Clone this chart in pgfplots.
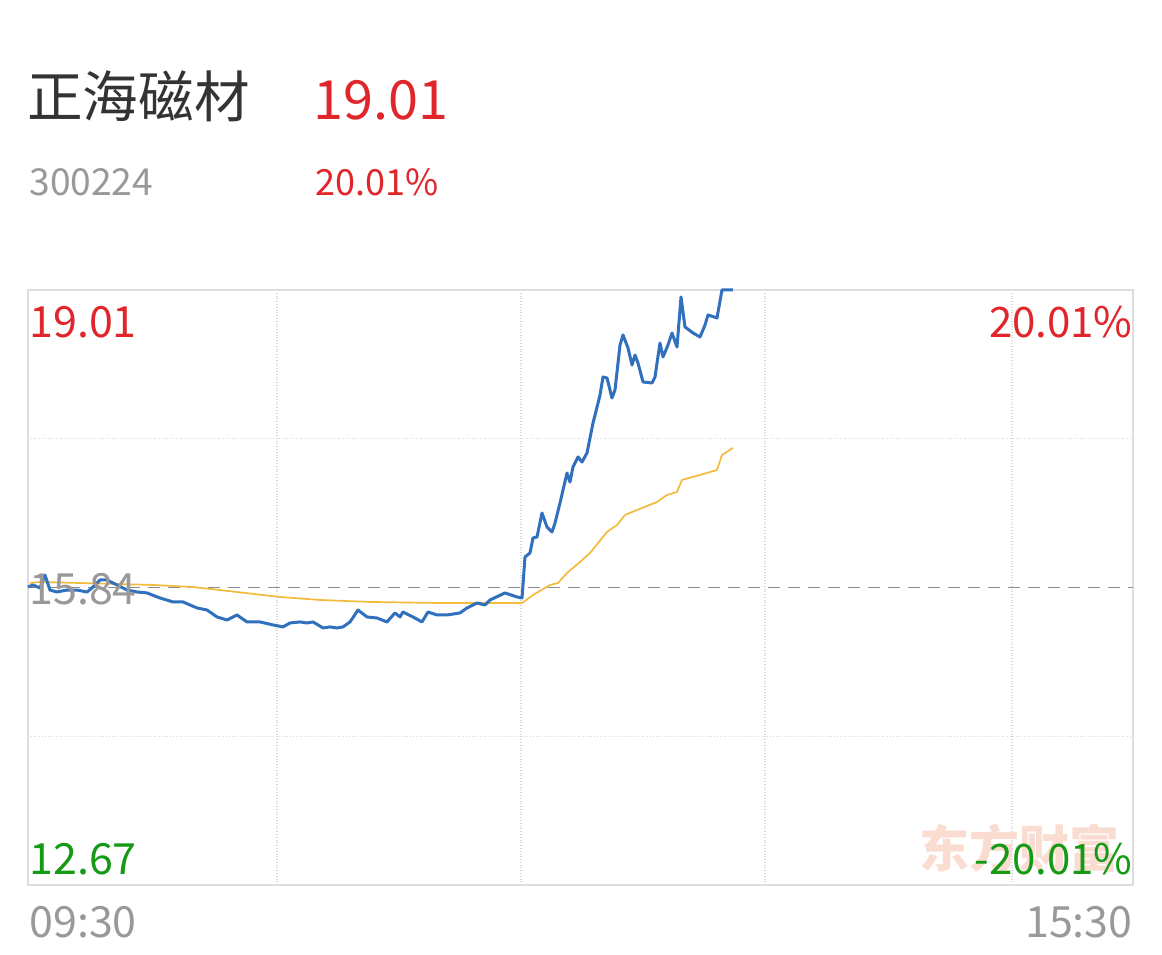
\documentclass[border=0pt]{standalone}
\usepackage{pgfplots}
\pgfplotsset{compat=1.18}
\usepackage{fontspec}
\setmainfont{Noto Sans CJK SC}
\definecolor{upred}{HTML}{E0262A}
\definecolor{downgreen}{HTML}{149A14}
\definecolor{txtgray}{HTML}{999999}
\definecolor{titlegray}{HTML}{333333}
\definecolor{framegray}{HTML}{DDDDDD}
\definecolor{gridgray}{HTML}{D8D8D8}
\definecolor{priceblue}{HTML}{3170BD}
\definecolor{avgyellow}{HTML}{F3BA3C}
\definecolor{wmcolor}{HTML}{FADCD0}
\definecolor{midgray}{HTML}{8C8C8C}
\pgfplotstableread{
t p
0 15.845
1.22 15.867
2.93 15.835
4.15 15.973
5.37 15.813
7.09 15.792
9.53 15.813
11.97 15.813
14.42 15.792
15.64 15.835
17.59 15.920
19.30 15.920
21.75 15.867
24.19 15.813
26.63 15.792
29.08 15.782
32.25 15.728
35.43 15.686
37.87 15.686
41.29 15.622
43.74 15.600
46.18 15.526
48.62 15.494
51.07 15.547
53.51 15.473
56.69 15.473
59.86 15.441
62.31 15.420
64.02 15.462
66.46 15.473
68.17 15.462
69.64 15.473
72.08 15.409
73.79 15.420
75.50 15.409
76.97 15.420
78.68 15.473
80.63 15.600
82.83 15.526
85.28 15.515
87.72 15.473
89.67 15.569
90.90 15.526
91.63 15.579
94.07 15.526
96.27 15.473
97.74 15.579
99.94 15.547
102.38 15.547
105.56 15.569
107.27 15.622
109.71 15.675
111.67 15.654
112.89 15.707
116.55 15.782
119.48 15.739
120.71 15.728
121.44 16.165
122.66 16.208
123.39 16.368
124.37 16.378
125.59 16.634
126.81 16.485
128.04 16.432
128.77 16.527
129.99 16.740
131.70 17.060
132.43 16.964
133.17 17.124
134.39 17.231
135.37 17.177
136.59 17.273
138.06 17.593
139.77 17.891
140.50 18.083
141.48 18.072
142.70 17.859
143.43 17.945
144.66 18.424
145.39 18.531
146.61 18.392
147.59 18.211
148.32 18.317
149.05 18.232
150.27 18.030
152.47 18.019
153.20 18.083
154.42 18.445
155.16 18.296
156.38 18.424
157.36 18.552
158.58 18.403
159.56 18.935
160.53 18.616
162.49 18.552
164.20 18.509
165.42 18.637
166.15 18.744
168.35 18.712
169.57 19.010
172.26 19.010
}\pricedata
\pgfplotstableread{
t p
0.49 15.888
2.93 15.899
30.54 15.867
40.32 15.845
46.91 15.813
61.57 15.739
71.35 15.707
83.57 15.686
99.94 15.675
116.06 15.675
120.71 15.675
123.39 15.760
127.55 15.867
129.50 15.888
131.70 15.995
134.88 16.112
137.32 16.208
141.48 16.432
143.92 16.506
145.87 16.613
148.81 16.666
153.69 16.751
156.13 16.826
158.58 16.858
159.80 16.986
164.20 17.039
168.35 17.092
169.57 17.252
172.26 17.327
}\avgdata
\begin{document}
\begin{tikzpicture}
\path[use as bounding box, fill=white] (0bp,0bp) rectangle (581bp,477.5bp);
\begin{axis}[
  at={(14bp,35bp)}, anchor=south west,
  scale only axis, width=552.5bp, height=297.5bp,
  xmin=0, xmax=270, ymin=12.67, ymax=19.01,
  axis line style={draw=framegray, line width=0.75bp},
  xtick={60.84,120.46,180.08,240.43}, ytick={14.255,17.425},
  xticklabels={}, yticklabels={},
  major tick length=0pt,
  grid=major, grid style={densely dotted, gridgray, line width=0.6bp},
  clip=false,
]
\addplot[no marks, color=midgray, line width=0.9bp, dash pattern=on 6bp off 4bp] coordinates {(0,15.84) (270,15.84)};
\addplot[no marks, color=avgyellow, line width=0.85bp, line join=round] table[x=t,y=p] {\avgdata};
\addplot[no marks, color=priceblue, line width=1.5bp, line join=round] table[x=t,y=p] {\pricedata};
\end{axis}
% header
\node[anchor=base west, inner sep=0, text=titlegray, font=\fontsize{27.8bp}{28bp}\selectfont] at (13.5bp,418.7bp) {正海磁材};
\node[anchor=base west, inner sep=0, text=upred, font=\fontsize{27bp}{27bp}\selectfont] at (156.5bp,417.5bp) {19.01};
\node[anchor=base west, inner sep=0, text=txtgray, font=\fontsize{18.6bp}{18.6bp}\selectfont] at (14.5bp,379.5bp) {300224};
\node[anchor=base west, inner sep=0, text=upred, font=\fontsize{18bp}{18bp}\selectfont] at (157.5bp,379.5bp) {20.01\%};
% watermark
\node[anchor=center, inner sep=0, text=wmcolor, font=\fontsize{25bp}{25bp}\selectfont\bfseries] at (509.5bp,53.5bp) {东方财富};
% in-plot labels
\node[anchor=base west, inner sep=0, text=upred, font=\fontsize{21.5bp}{21.5bp}\selectfont] at (14.5bp,308.5bp) {19.01};
\node[anchor=base east, inner sep=0, text=upred, font=\fontsize{21bp}{21bp}\selectfont] at (566.5bp,308.5bp) {20.01\%};
\node[anchor=base west, inner sep=0, text=txtgray, font=\fontsize{21.5bp}{21.5bp}\selectfont] at (14.5bp,175bp) {15.84};
\node[anchor=base west, inner sep=0, text=downgreen, font=\fontsize{21.5bp}{21.5bp}\selectfont] at (14.5bp,40bp) {12.67};
\node[anchor=base east, inner sep=0, text=downgreen, font=\fontsize{21bp}{21bp}\selectfont] at (566.5bp,40bp) {-20.01\%};
\node[anchor=base west, inner sep=0, text=txtgray, font=\fontsize{21.5bp}{21.5bp}\selectfont] at (14.5bp,9bp) {09:30};
\node[anchor=base east, inner sep=0, text=txtgray, font=\fontsize{21.5bp}{21.5bp}\selectfont] at (566.5bp,9bp) {15:30};
\end{tikzpicture}
\end{document}
